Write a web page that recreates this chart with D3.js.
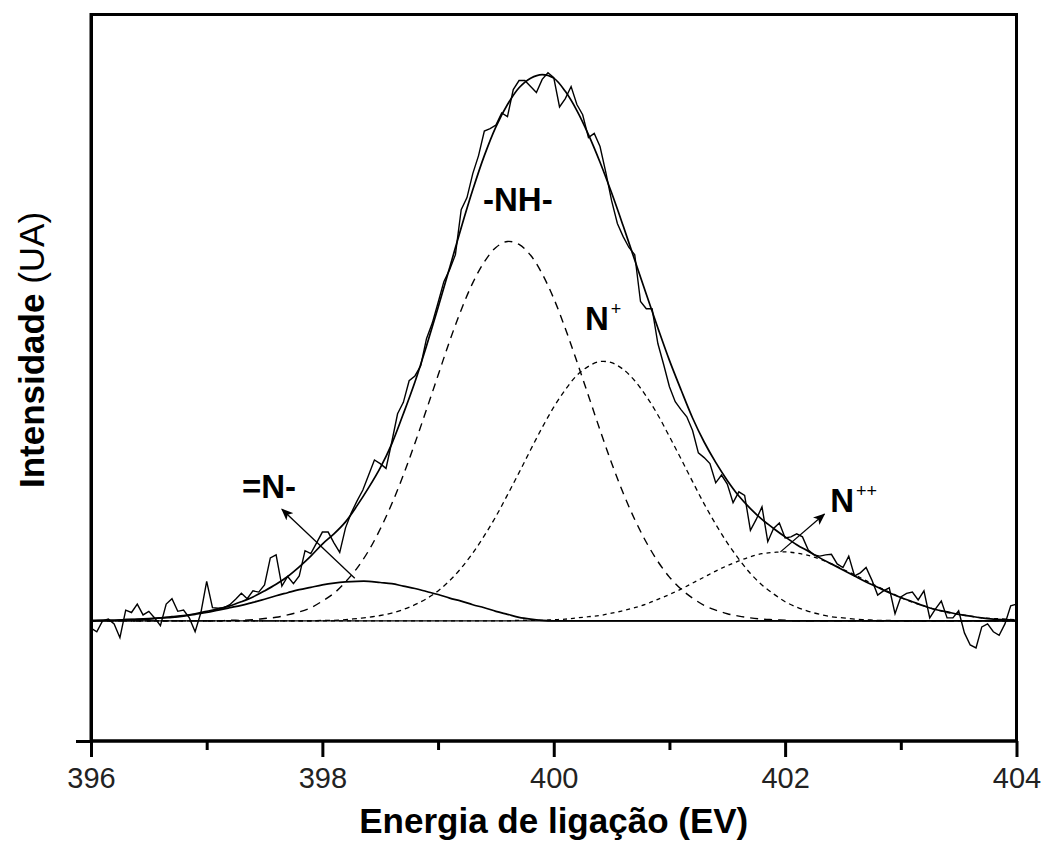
<!DOCTYPE html>
<html><head><meta charset="utf-8">
<script src="https://cdn.jsdelivr.net/npm/d3@7/dist/d3.min.js"></script>
<style>body{margin:0;background:#fff}svg{display:block}</style>
</head><body>
<svg id="chart" width="1046" height="852"></svg>
<script>
// ---------------- data ----------------
const xDomain = [396, 404];
const yDomain = [-200, 1010];
const xTickValues = [396, 397, 398, 399, 400, 401, 402, 403, 404];
const xTickLabels = ["396", "", "398", "", "400", "", "402", "", "404"];
const xTitle = "Energia de ligação (EV)";
const yTitleBold = "Intensidade";
const yTitleNormal = " (UA)";

// measured spectrum, 396.00 .. 404.00 eV every 0.05 eV
const spectrumStart = 396, spectrumStep = 0.05;
const spectrum = [
 -12,-18,0,3,-5,-28,18,14,28,10,16,5,-8,28,37,16,18,5,-18,14,
 66,22,21,22,27,36,46,37,50,48,60,105,110,58,74,62,75,117,112,130,
 148,148,130,114,155,180,200,218,243,268,262,254,298,345,364,400,408,425,470,496,
 530,565,585,610,685,705,745,775,816,820,826,846,840,885,900,900,890,880,902,913,
 905,856,870,890,860,843,805,812,790,747,700,662,640,622,610,532,520,520,462,427,
 390,365,352,340,317,280,272,262,230,243,228,197,215,209,151,169,190,132,154,163,
 138,140,145,140,118,110,108,110,111,95,89,108,75,80,89,68,43,50,55,12,
 40,46,48,35,50,5,20,33,5,5,17,-20,-40,-45,-10,-5,-18,-24,-5,25,28
];

// fitted curves, 396.0 .. 404.0 eV every 0.1 eV
const fitStart = 396, fitStep = 0.1;
const envelope = [
 0,1,1,2,3,4,5,7,9,12,
 16,20,25,32,40,50,61,74,90,108,
 128,145,165,192,222,255,295,345,398,458,
 522,588,655,718,775,823,860,888,904,910,
 904,882,850,810,764,713,658,601,544,488,
 434,385,338,298,264,234,208,187,169,154,
 140,127,116,105,95,85,75,65,56,47,
 39,32,25,19,15,11,8,5,3,2,
 1
];
const peakImine = [ // =N-
 1,1,1,2,2,3,5,6,8,11,
 14,18,22,26,31,36,42,47,52,56,
 60,63,65,66,66,64,62,58,54,49,
 44,38,33,27,22,16,11,6,3,1,
 0,0,0,0,0,0,0,0,0,0,
 0,0,0,0,0,0,0,0,0,0,
 0,0,0,0,0,0,0,0,0,0,
 0,0,0,0,0,0,0,0,0,0,
 0
];
const peakAmine = [ // -NH-
 0,0,0,0,0,0,0,0,0,0,
 0,0,1,1,2,4,6,10,15,22,
 33,46,65,88,117,153,195,243,296,352,
 409,466,518,563,598,622,632,627,609,578,
 537,487,432,375,318,263,213,169,131,99,
 73,53,38,26,18,12,8,5,3,2,
 1,0,0,0,0,0,0,0,0,0,
 0,0,0,0,0,0,0,0,0,0,
 0
];
const peakNplus = [ // N+
 0,0,0,0,0,0,0,0,0,0,
 0,0,0,0,0,0,0,0,0,0,
 1,1,2,4,6,9,13,19,27,37,
 50,67,88,113,142,174,210,247,285,322,
 356,385,409,424,432,430,419,400,374,343,
 307,270,232,195,161,130,103,79,60,45,
 32,23,16,11,7,5,3,2,1,1,
 0,0,0,0,0,0,0,0,0,0,
 0
];
const peakNplusplus = [ // N++
 0,0,0,0,0,0,0,0,0,0,
 0,0,0,0,0,0,0,0,0,0,
 0,0,0,0,0,0,0,0,0,0,
 0,0,0,0,0,0,0,1,1,1,
 2,3,5,7,9,13,17,22,28,36,
 44,53,63,73,83,92,100,107,112,114,
 115,113,109,103,95,86,77,67,57,48,
 39,31,25,19,14,11,8,5,4,3,
 2
];
const baseline = [0, 0];

const peakLabels = ["-NH-", "N", "=N-", "N"];
const peakSup = ["", "+", "", "++"];

// ---------------- drawing ----------------
const svg = d3.select("#chart");
const FONT = "'Liberation Sans', Arial, Helvetica, sans-serif";
const x = d3.scaleLinear().domain(xDomain).range([91, 1016.5]);
const y = d3.scaleLinear().domain(yDomain).range([741, 14.5]);

// frame
svg.append("rect").attr("x", x(xDomain[0])).attr("y", y(yDomain[1]))
  .attr("width", x(xDomain[1]) - x(xDomain[0])).attr("height", y(yDomain[0]) - y(yDomain[1]))
  .attr("fill", "none").attr("stroke", "#000").attr("stroke-width", 3);

const plot = svg.append("g");

function fitLine(arr) {
  return d3.line().curve(d3.curveCatmullRom)
    .x((d, i) => x(fitStart + i * fitStep)).y(d => y(d))(arr);
}

// baseline
plot.append("path")
  .attr("d", d3.line().x((d, i) => x(xDomain[i])).y(d => y(d))(baseline))
  .attr("fill", "none").attr("stroke", "#000").attr("stroke-width", 1.3);

// components
plot.append("path").attr("d", fitLine(peakAmine)).attr("fill", "none")
  .attr("stroke", "#000").attr("stroke-width", 1.4).attr("stroke-dasharray", "8,6");
plot.append("path").attr("d", fitLine(peakNplus)).attr("fill", "none")
  .attr("stroke", "#000").attr("stroke-width", 1.3).attr("stroke-dasharray", "5,4");
plot.append("path").attr("d", fitLine(peakNplusplus)).attr("fill", "none")
  .attr("stroke", "#000").attr("stroke-width", 1.3).attr("stroke-dasharray", "4,4");
plot.append("path").attr("d", fitLine(peakImine)).attr("fill", "none")
  .attr("stroke", "#000").attr("stroke-width", 1.7);

// measured spectrum
plot.append("path")
  .attr("d", d3.line().x((d, i) => x(spectrumStart + i * spectrumStep)).y(d => y(d))(spectrum))
  .attr("fill", "none").attr("stroke", "#000").attr("stroke-width", 1.4).attr("stroke-linejoin", "miter");

// envelope
plot.append("path").attr("d", fitLine(envelope)).attr("fill", "none")
  .attr("stroke", "#000").attr("stroke-width", 1.7);

// axes
const xAxis = svg.append("g").attr("transform", `translate(0,${y(yDomain[0])})`)
  .call(d3.axisBottom(x).tickValues(xTickValues).tickSize(16).tickSizeOuter(0)
    .tickFormat((d, i) => xTickLabels[i]));
xAxis.select(".domain").attr("stroke-width", 3).attr("d", `M${x(xDomain[0])},0H${x(xDomain[1])}`);
xAxis.selectAll(".tick line").attr("stroke-width", 3)
  .attr("y2", (d, i) => xTickLabels[i] ? 16 : 9);
xAxis.selectAll(".tick text").attr("y", 47).attr("dy", 0)
  .attr("font-family", FONT).attr("font-size", 29).attr("fill", "#222");

const yAxis = svg.append("g").attr("transform", `translate(${x(xDomain[0])},0)`)
  .call(d3.axisLeft(y).tickValues([yDomain[0]]).tickSize(15).tickSizeOuter(0).tickFormat(""));
yAxis.select(".domain").attr("stroke-width", 3);
yAxis.selectAll(".tick line").attr("stroke-width", 3);

// titles
svg.append("text").attr("x", (x(xDomain[0]) + x(xDomain[1])) / 2).attr("y", 833)
  .attr("text-anchor", "middle").attr("font-family", FONT).attr("font-weight", "bold")
  .attr("font-size", 35).attr("fill", "#000").text(xTitle);
const yt = svg.append("text").attr("transform", "translate(44,350) rotate(-90)")
  .attr("text-anchor", "middle").attr("font-family", FONT).attr("font-size", 35).attr("fill", "#000");
yt.append("tspan").attr("font-weight", "bold").text(yTitleBold);
yt.append("tspan").text(yTitleNormal);

// arrows
const defs = svg.append("defs");
defs.append("marker").attr("id", "arr").attr("viewBox", "0 0 12 10")
  .attr("refX", 11).attr("refY", 5).attr("markerWidth", 12).attr("markerHeight", 10)
  .attr("markerUnits", "userSpaceOnUse").attr("orient", "auto")
  .append("path").attr("d", "M0,0L12,5L0,10L3,5Z").attr("fill", "#000");

const arrows = [
  {from: [398.28, 71], to: [397.65, 186]},
  {from: [401.96, 115], to: [402.34, 178]}
];
svg.selectAll(".arrow").data(arrows).join("line").attr("class", "arrow")
  .attr("x1", d => x(d.from[0])).attr("y1", d => y(d.from[1]))
  .attr("x2", d => x(d.to[0])).attr("y2", d => y(d.to[1]))
  .attr("stroke", "#000").attr("stroke-width", 1.3).attr("marker-end", "url(#arr)");

// peak labels
const labelPos = [
  {x: 399.69, y: 682, anchor: "middle"},
  {x: 400.27, y: 484, anchor: "start"},
  {x: 397.305, y: 204, anchor: "start"},
  {x: 402.39, y: 181, anchor: "start"}
];
peakLabels.forEach((t, i) => {
  const p = labelPos[i];
  const tx = svg.append("text").attr("x", x(p.x)).attr("y", y(p.y))
    .attr("text-anchor", p.anchor).attr("font-family", FONT).attr("font-weight", "bold")
    .attr("font-size", 33).attr("fill", "#000");
  tx.append("tspan").text(t);
  if (peakSup[i]) tx.append("tspan").attr("dy", -15).attr("dx", 2)
    .attr("font-size", 18).attr("font-weight", "normal").text(peakSup[i]);
});
</script>
</body></html>
